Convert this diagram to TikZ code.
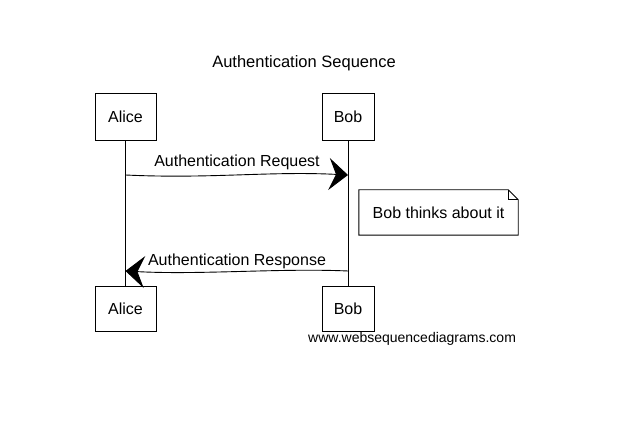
\documentclass[tikz,border=0pt]{standalone}
\usepackage{fontspec}
\setmainfont{Liberation Sans}
\usetikzlibrary{arrows.meta}
\begin{document}
\begin{tikzpicture}[x=1pt,y=-1pt,
  hand/.style={font=\fontsize{16}{18}\selectfont},
  actor/.style={draw, line width=0.9pt, hand, minimum height=47pt, inner sep=0pt},
  msg/.style={line width=0.9pt, -{Stealth[length=19pt,width=32pt,inset=7pt]}},
  life/.style={line width=0.7pt}]
\useasboundingbox (0,0) rectangle (640,427);
\node[font=\fontsize{16.5}{18}\selectfont] (title) at (304,63) {Authentication Sequence};
\node[actor, minimum width=61pt] (a1) at (125.5,116.5) {Alice};
\node[actor, minimum width=52pt] (b1) at (348,116.5) {Bob};
\node[actor, minimum width=61pt, minimum height=45pt] (a2) at (125.5,308.5) {Alice};
\node[actor, minimum width=52pt, minimum height=45pt] (b2) at (348,308.5) {Bob};
\draw[life] (a1.south) -- (a2.north);
\draw[life] (b1.south) -- (b2.north);
\coordinate (rq1) at (a1.south |- 0,175);
\coordinate (rq2) at (b1.south |- 0,175);
\draw[msg] (rq1) .. controls (210,179) and (270,171) .. (rq2);
\node[hand] (lq) at (237,162) {Authentication Request};
\node[hand, minimum width=159pt, minimum height=45pt, inner sep=0pt] (note) at (438.5,212.5) {Bob thinks about it};
\draw[line width=0.9pt] (note.north west) -- ([xshift=-10pt]note.north east)
  -- ([yshift=-10pt]note.north east) -- (note.south east) -- (note.south west) -- cycle;
\draw[line width=0.7pt] ([xshift=-10pt]note.north east) -- ([xshift=-10pt,yshift=-10pt]note.north east) -- ([yshift=-10pt]note.north east);
\coordinate (rs1) at (b1.south |- 0,271);
\coordinate (rs2) at (a1.south |- 0,271);
\draw[msg] (rs1) .. controls (280,268) and (200,275) .. (rs2);
\node[hand] (ls) at (237,261) {Authentication Response};
\node[font=\fontsize{14}{16}\selectfont, anchor=west, inner sep=0pt] (wm) at (308,339) {www.websequencediagrams.com};
\end{tikzpicture}
\end{document}
